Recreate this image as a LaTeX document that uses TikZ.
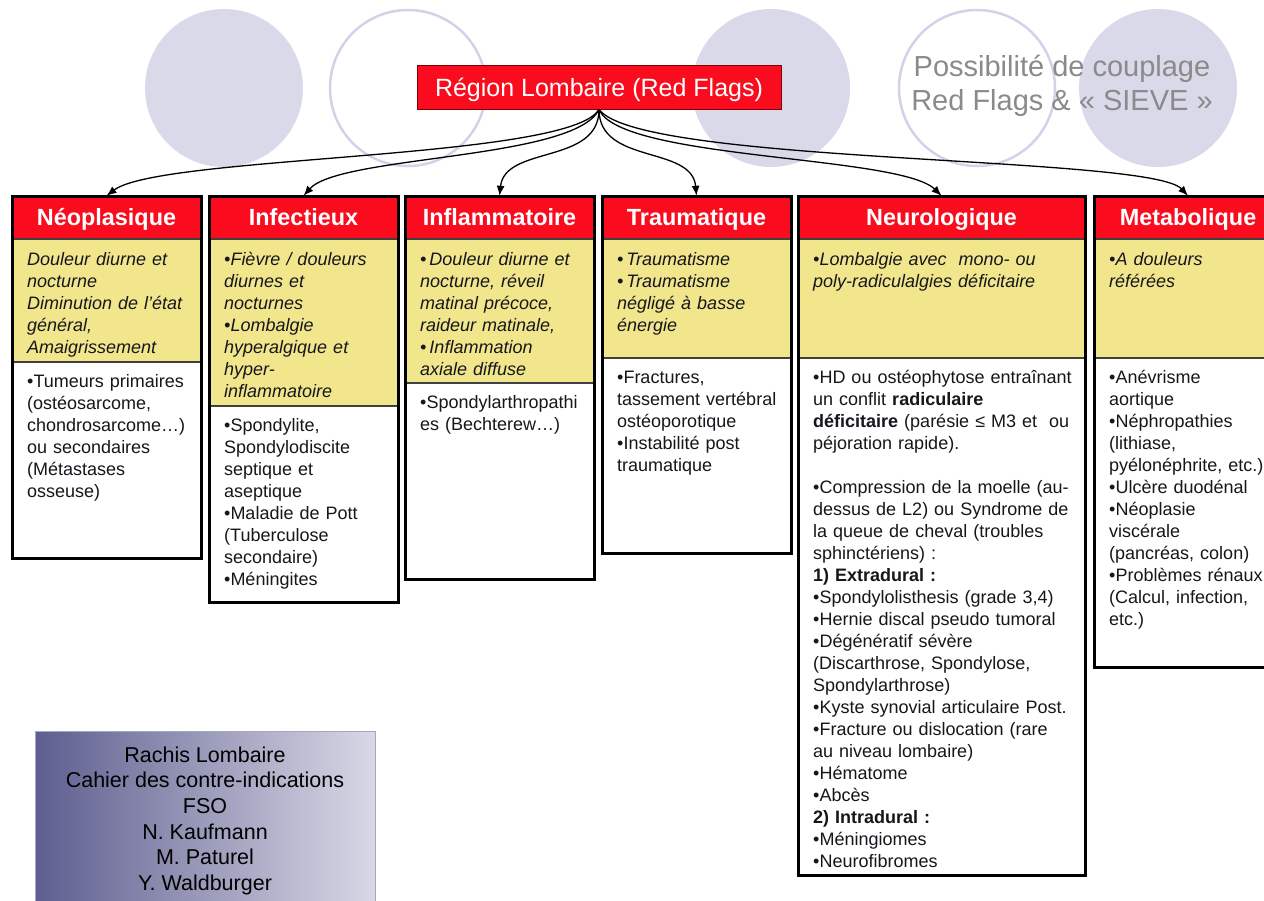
\documentclass[tikz,border=0pt]{standalone}
\usepackage{fontspec}
\setmainfont{Liberation Sans}
\usetikzlibrary{arrows.meta}
\definecolor{redh}{RGB}{250,12,30}
\definecolor{yelc}{RGB}{241,230,140}
\definecolor{circf}{RGB}{217,217,233}
\definecolor{circl}{RGB}{210,210,232}
\definecolor{grayt}{RGB}{138,138,138}
\definecolor{txt}{RGB}{22,22,28}
\definecolor{slate}{RGB}{94,94,144}
\definecolor{slatel}{RGB}{216,216,230}
\begin{document}
\begin{tikzpicture}[x=1pt,y=-1pt,
  hdr/.style={fill=redh, text=white, font=\fontsize{23.4}{28}\selectfont\bfseries, minimum height=43pt, inner sep=0pt, text height=17pt, text depth=1pt},
  body/.style={anchor=north west, inner sep=0pt, align=left, text=txt, font=\fontsize{18}{22}\selectfont},
  ital/.style={anchor=north west, inner sep=0pt, align=left, text=txt, font=\fontsize{18}{22}\selectfont\itshape},
  frame/.style={draw=black, line width=3pt},
  sepline/.style={draw=black!75, line width=1.2pt},
  conn/.style={draw=black, line width=1.3pt, -{Latex[length=10pt,width=8pt]}},
  disc/.style={fill=circf, draw=none},
  ring/.style={draw=circl, line width=2.5pt},
]
\useasboundingbox (0,0) rectangle (1264,900);
\clip (0,0) rectangle (1264,900);

% background circles
\path[disc] (224,88) circle[radius=79pt];
\path[ring] (408,88) circle[radius=78pt];
\path[disc] (771,88) circle[radius=79pt];
\path[ring] (977,88) circle[radius=78pt];
\path[disc] (1158,88) circle[radius=79pt];

\node[align=center, text=grayt, font=\fontsize{29}{34}\selectfont, inner sep=0pt] (sieve) at (1062,86) {Possibilité de couplage\\Red Flags \& « SIEVE »};

% title
\node[fill=redh, draw=red!50!black, line width=0.8pt, minimum width=364pt, minimum height=44pt, inner sep=0pt, text height=18pt, text depth=0pt, text=white, font=\fontsize{25}{30}\selectfont] (title) at (599,87) {Région Lombaire (Red Flags)};

% column backgrounds
\fill[yelc] (12,239) rectangle (201,362);   \fill[white] (12,362) rectangle (201,558);
\fill[yelc] (209,239) rectangle (398,406);  \fill[white] (209,406) rectangle (398,602);
\fill[yelc] (405,239) rectangle (594,383);  \fill[white] (405,383) rectangle (594,579);
\fill[yelc] (602,239) rectangle (791,358);  \fill[white] (602,358) rectangle (791,553);
\fill[yelc] (798,239) rectangle (1085,358); \fill[white] (798,358) rectangle (1085,875);
\fill[yelc] (1094,239) rectangle (1282,358); \fill[white] (1094,358) rectangle (1282,667);

% headers
\node[hdr, minimum width=189pt] (h1) at (106.5,217.5) {Néoplasique};
\node[hdr, minimum width=189pt] (h2) at (303.5,217.5) {Infectieux};
\node[hdr, minimum width=189pt] (h3) at (499.5,217.5) {Inflammatoire};
\node[hdr, minimum width=189pt] (h4) at (696.5,217.5) {Traumatique};
\node[hdr, minimum width=287pt] (h5) at (941.5,217.5) {Neurologique};
\node[hdr, minimum width=188pt] (h6) at (1188,217.5) {Metabolique};

% separators
\draw[sepline] (12,239) -- (201,239) (12,362) -- (201,362);
\draw[sepline] (209,239) -- (398,239) (209,406) -- (398,406);
\draw[sepline] (405,239) -- (594,239) (405,383) -- (594,383);
\draw[sepline] (602,239) -- (791,239) (602,358) -- (791,358);
\draw[sepline] (798,239) -- (1085,239) (798,358) -- (1085,358);
\draw[sepline] (1094,239) -- (1282,239) (1094,358) -- (1282,358);

% frames
\draw[frame] (12,196) rectangle (201,558);
\draw[frame] (209,196) rectangle (398,602);
\draw[frame] (405,196) rectangle (594,579);
\draw[frame] (602,196) rectangle (791,553);
\draw[frame] (798,196) rectangle (1085,875);
\draw[frame] (1094,196) rectangle (1282,667);

% texts column 1
\node[ital, text width=171pt] (y1) at (27,248) {\rule{0pt}{17pt}Douleur diurne et\\nocturne\\Diminution de l'état\\général,\\Amaigrissement};
\node[body, text width=171pt] (w1) at (27,370) {\rule{0pt}{17pt}•Tumeurs primaires\\(ostéosarcome,\\chondrosarcome…)\\ou secondaires\\(Métastases\\osseuse)};

% column 2
\node[ital, text width=171pt] (y2) at (224,248) {\rule{0pt}{17pt}•Fièvre / douleurs\\diurnes et\\nocturnes\\•Lombalgie\\hyperalgique et\\hyper-\\inflammatoire};
\node[body, text width=171pt] (w2) at (224,414) {\rule{0pt}{17pt}•Spondylite,\\Spondylodiscite\\septique et\\aseptique\\•Maladie de Pott\\(Tuberculose\\secondaire)\\•Méningites};

% column 3
\node[ital, text width=171pt] (y3) at (420,248) {\rule{0pt}{17pt}•\,Douleur diurne et\\nocturne, réveil\\matinal précoce,\\raideur matinale,\\•\,Inflammation\\axiale diffuse};
\node[body, text width=171pt] (w3) at (420,391) {\rule{0pt}{17pt}•Spondylarthropathi\\es (Bechterew…)};

% column 4
\node[ital, text width=171pt] (y4) at (617,248) {\rule{0pt}{17pt}•\,Traumatisme\\•\,Traumatisme\\négligé à basse\\énergie};
\node[body, text width=171pt] (w4) at (617,366) {\rule{0pt}{17pt}•Fractures,\\tassement vertébral\\ostéoporotique\\•Instabilité post\\traumatique};

% column 5
\node[ital, text width=269pt] (y5) at (813,248) {\rule{0pt}{17pt}•Lombalgie avec\ \ mono- ou\\poly-radiculalgies déficitaire};
\node[body, text width=269pt] (w5) at (813,366) {\rule{0pt}{17pt}•HD ou ostéophytose entraînant\\un conflit \textbf{radiculaire}\\\textbf{déficitaire} (parésie ≤ M3 et\ \ ou\\péjoration rapide).\\[22pt]•Compression de la moelle (au-\\dessus de L2) ou Syndrome de\\la queue de cheval (troubles\\sphinctériens) :\\\textbf{1) Extradural :}\\•Spondylolisthesis (grade 3,4)\\•Hernie discal pseudo tumoral\\•Dégénératif sévère\\(Discarthrose, Spondylose,\\Spondylarthrose)\\•Kyste synovial articulaire Post.\\•Fracture ou dislocation (rare\\au niveau lombaire)\\•Hématome\\•Abcès\\\textbf{2) Intradural :}\\•Méningiomes\\•Neurofibromes};

% column 6
\node[ital, text width=175pt] (y6) at (1109,248) {\rule{0pt}{17pt}•A douleurs\\référées};
\node[body, text width=175pt] (w6) at (1109,366) {\rule{0pt}{17pt}•Anévrisme\\aortique\\•Néphropathies\\(lithiase,\\pyélonéphrite, etc.)\\•Ulcère duodénal\\•Néoplasie\\viscérale\\(pancréas, colon)\\•Problèmes rénaux\\(Calcul, infection,\\etc.)};

% connectors
\draw[conn] (title.south) .. controls (570,160) and (160,155) .. (h1.north);
\draw[conn] (title.south) .. controls (575,160) and (340,155) .. (h2.north);
\draw[conn] (title.south) .. controls (599,165) and (505,145) .. (h3.north);
\draw[conn] (title.south) .. controls (599,165) and (692,145) .. (h4.north);
\draw[conn] (title.south) .. controls (620,160) and (900,155) .. (h5.north);
\draw[conn] (title.south) .. controls (640,165) and (1150,155) .. (h6.north);

% credit box
\shade[left color=slate, right color=slatel] (35,731) rectangle (375,905);
\draw[draw=slate!55, line width=1pt] (35,731) rectangle (375,905);
\node[anchor=north, align=center, inner sep=0pt, text=black, font=\fontsize{21.5}{25.6}\selectfont] (credit) at (205,744) {\rule{0pt}{18pt}Rachis Lombaire\\Cahier des contre-indications\\FSO\\N. Kaufmann\\M. Paturel\\Y. Waldburger};
\end{tikzpicture}
\end{document}
